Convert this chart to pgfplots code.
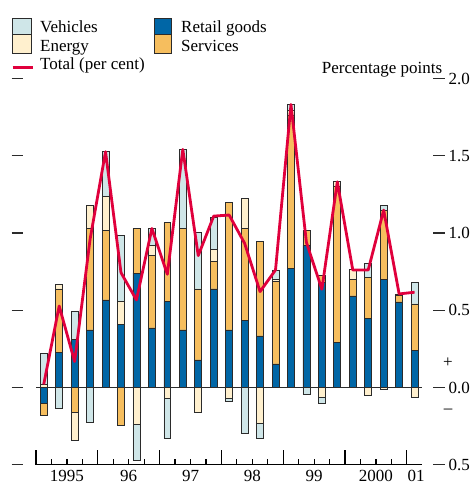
\documentclass[border=0pt]{standalone}
\usepackage{fontspec}
\setmainfont{Liberation Serif}
\usepackage{pgfplots}
\pgfplotsset{compat=1.18}
\usepackage{pgfplotstable}

\definecolor{veh}{HTML}{CFE6E8}
\definecolor{ene}{HTML}{FFF0CE}
\definecolor{ret}{HTML}{0066A6}
\definecolor{ser}{HTML}{F6BE5E}
\definecolor{tot}{HTML}{E0003C}
\definecolor{edge}{HTML}{2B2B2B}

\pgfplotstableread{
x    Vp    Ep    Rp    Sp    Vn     En     Rn     Sn     T
0.5  0.196 0.022 0     0     0      0      -0.101 -0.082 0.020
1.5  0     0.030 0.226 0.412 -0.134 0      0      0      0.528
2.5  0.183 0     0.313 0     0      -0.183 0      -0.160 0.168
3.5  0     0.147 0.373 0.658 -0.224 0      0      0      0.960
4.5  0.295 0.220 0.567 0.448 0      0      0      0      1.527
5.5  0.425 0.149 0.410 0     0      0      0      -0.246 0.744
6.5  0     0     0.740 0.291 -0.233 -0.241 0      0      0.567
7.5  0.110 0.063 0.386 0.472 0      0      0      0      1.030
8.5  0     0     0.558 0.509 -0.259 -0.073 0      0      0.733
9.5  0.511 0     0.373 0.658 0      0      0      0      1.542
10.5 0.369 0     0.179 0.459 0      -0.162 0      0      0.854
11.5 0.209 0.075 0.638 0.181 0      0      0      0      1.110
12.5 0     0     0.373 0.826 -0.019 -0.069 0      0      1.117
13.5 0     0.194 0.433 0.597 -0.295 0      0      0      0.934
14.5 0     0     0.334 0.612 -0.101 -0.231 0      0      0.621
15.5 0.058 0.017 0.153 0.533 0      0      0      0      0.761
16.5 0.041 0.028 0.772 0.992 0      0      0      0      1.833
17.5 0     0     0.921 0.097 -0.047 0      0      0      0.940
18.5 0     0     0.679 0.045 -0.039 -0.063 0      0      0.636
19.5 0     0.032 0.291 1.009 0      0      0      0      1.332
20.5 0     0.065 0.593 0.108 0      0      0      0      0.761
21.5 0.090 0     0.448 0.265 0      -0.052 0      0      0.761
22.5 0.032 0     0.701 0.444 0      -0.012 0      0      1.149
23.5 0     0.011 0.554 0.041 0      0      0      0      0.606
24.5 0.138 0     0.239 0.302 0      -0.063 0      0      0.617
}\data

\pgfplotsset{
  base/.style={scale only axis, width=386.3bp, height=386bp,
    xmin=0, xmax=25, ymin=-0.5, ymax=2,
    at={(36bp,21.3bp)}, anchor=south west, clip=false},
  barst/.style={draw=edge, line width=0.7bp},
}

\begin{document}
\begin{tikzpicture}[x=1bp,y=1bp,font=\fontsize{17bp}{20bp}\selectfont]
\useasboundingbox (0,0) rectangle (475,486);

% positive parts
\begin{axis}[base, hide axis, ybar stacked, bar width=0.45]
\addplot[barst, fill=ret] table[x=x,y=Rp]{\data};
\addplot[barst, fill=ser] table[x=x,y=Sp]{\data};
\addplot[barst, fill=ene] table[x=x,y=Ep]{\data};
\addplot[barst, fill=veh] table[x=x,y=Vp]{\data};
\end{axis}

% negative parts
\begin{axis}[base, hide axis, ybar stacked, bar width=0.45]
\addplot[barst, fill=ret] table[x=x,y=Rn]{\data};
\addplot[barst, fill=ser] table[x=x,y=Sn]{\data};
\addplot[barst, fill=ene] table[x=x,y=En]{\data};
\addplot[barst, fill=veh] table[x=x,y=Vn]{\data};
\end{axis}

% axis line, zero line, total
\begin{axis}[base, axis x line*=bottom, axis y line=none,
  x axis line style={line width=1.2bp, black},
  tick style={line width=1.2bp, black},
  tick align=inside, major tick length=15bp, minor tick length=6bp,
  xtick={0,4,8,12,16,20,24}, xticklabels={},
  minor xtick={1,2,3,5,6,7,9,10,11,13,14,15,17,18,19,21,22,23},
  ytick=\empty]
\draw[edge, line width=1.2bp] (axis cs:0,0) -- (axis cs:25,0);
\addplot[tot, line width=2.8bp, line join=round] table[x=x,y=T]{\data};
\node[anchor=base, inner sep=0] at (axis cs:2,-0.5) [yshift=-16.8bp] {1995};
\node[anchor=base, inner sep=0] at (axis cs:6,-0.5) [yshift=-16.8bp] {96};
\node[anchor=base, inner sep=0] at (axis cs:10,-0.5) [yshift=-16.8bp] {97};
\node[anchor=base, inner sep=0] at (axis cs:14,-0.5) [yshift=-16.8bp] {98};
\node[anchor=base, inner sep=0] at (axis cs:18,-0.5) [yshift=-16.8bp] {99};
\node[anchor=base, inner sep=0] at (axis cs:22,-0.5) [yshift=-16.8bp] {2000};
\node[anchor=base, inner sep=0] at (axis cs:24.6,-0.5) [yshift=-16.8bp] {01};
\end{axis}

% side ticks and labels
\foreach \v/\t in {-0.5/0.5,0/0.0,0.5/0.5,1/1.0,1.5/1.5,2/2.0} {
  \draw[edge, line width=1.2bp] (11.7,{98.5+154.4*\v}) -- (23.3,{98.5+154.4*\v});
  \draw[edge, line width=1.2bp] (433,{98.5+154.4*\v}) -- (444.5,{98.5+154.4*\v});
  \node[anchor=west, inner sep=0] at (448.5,{98.5+154.4*\v}) {\t};
}
\node[inner sep=0] at (448,123) {+};
\node[inner sep=0] at (448,74.3) {–};

% legend
\draw[edge, line width=1bp, fill=veh] (12.7,451) rectangle (31,467.7);
\draw[edge, line width=1bp, fill=ene] (12.7,432.7) rectangle (31,451);
\draw[edge, line width=1bp, fill=ret] (154,451) rectangle (171.7,467.7);
\draw[edge, line width=1bp, fill=ser] (154,432.7) rectangle (171.7,451);
\node[anchor=base west, inner sep=0] at (40,453.7) {Vehicles};
\node[anchor=base west, inner sep=0] at (40,434.3) {Energy};
\node[anchor=base west, inner sep=0] at (181,453.7) {Retail goods};
\node[anchor=base west, inner sep=0] at (181,434.3) {Services};
\draw[tot, line width=2.8bp] (12.7,418.3) -- (32.7,418.3);
\node[anchor=base west, inner sep=0] at (40,416.7) {Total (per cent)};
\node[anchor=base west, inner sep=0] at (321.7,412.7) {Percentage points};
\end{tikzpicture}
\end{document}
